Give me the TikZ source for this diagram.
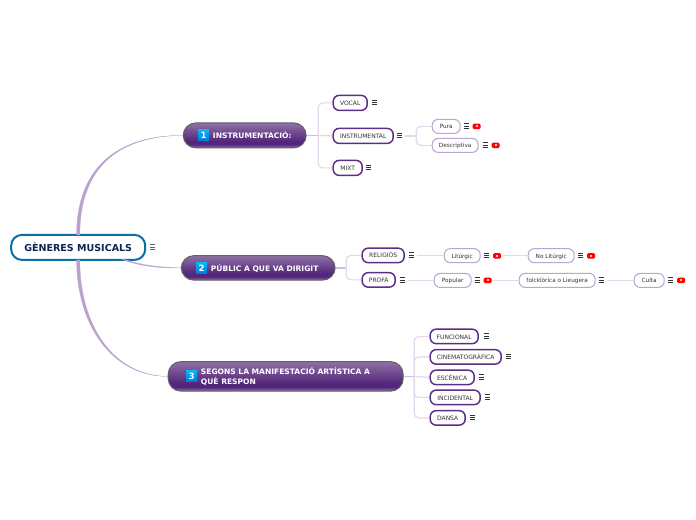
\documentclass[tikz,border=0pt]{standalone}
\usepackage{fontspec}
\setmainfont{DejaVu Sans}
\usetikzlibrary{calc}
\definecolor{rootblue}{HTML}{0A6EA8}
\definecolor{navy}{HTML}{0F2350}
\definecolor{subp}{HTML}{5C2E86}
\definecolor{leafp}{HTML}{BBA6D3}
\definecolor{brl}{HTML}{E2D8EC}
\definecolor{brm}{HTML}{B9A2CF}
\definecolor{txt}{HTML}{333333}
\definecolor{tpa}{HTML}{8F70A6}
\definecolor{tpb}{HTML}{52267A}
\definecolor{tpc}{HTML}{80609A}
\definecolor{ica}{HTML}{0AB4F5}
\definecolor{icb}{HTML}{0078D8}
\pgfdeclareverticalshading{topicshade}{100bp}{
 color(0bp)=(tpc); color(25bp)=(tpc); color(27bp)=(tpc);
 color(32bp)=(tpb); color(38bp)=(tpb);
 color(75bp)=(tpa); color(100bp)=(tpa)}
\pgfdeclareverticalshading{iconshade}{100bp}{
 color(0bp)=(icb); color(25bp)=(icb);
 color(75bp)=(ica); color(100bp)=(ica)}
\tikzset{
 x=0.75pt,y=-0.75pt,
 sz/.style 2 args={minimum width=#1*0.75pt,minimum height=#2*0.75pt},
 rootbox/.style={draw=rootblue,line width=1.5pt,fill=white,rounded corners=8pt,inner sep=0pt,
   font=\bfseries\fontsize{7.15}{8}\selectfont,text=navy},
 topic/.style={draw=black!62,line width=0.75pt,shading=topicshade,rounded corners=9.5pt,inner sep=0pt},
 topiclabel/.style={inner sep=0pt,anchor=west,align=left,text=white,
   font=\bfseries\fontsize{5.65}{7.4}\selectfont},
 numicon/.style={inner sep=0pt,shading=iconshade,minimum width=8.2pt,minimum height=8.2pt,text=white,
   font=\bfseries\fontsize{6.5}{7}\selectfont},
 subbox/.style={draw=subp,line width=1.1pt,fill=white,rounded corners=4.5pt,inner sep=0pt,
   text height=4.6pt,text depth=0.7pt,font=\fontsize{4.5}{5}\selectfont,text=txt},
 leafbox/.style={draw=leafp,line width=0.8pt,fill=white,rounded corners=4.5pt,inner sep=0pt,
   text height=4.6pt,text depth=0.7pt,font=\fontsize{4.3}{5}\selectfont,text=txt},
 branch/.style={draw=brl,line width=0.9pt,rounded corners=3.5pt},
 main/.style={draw=brm,fill=brm,line width=0.2pt},
 pics/menu/.style={code={
   \draw[#1,line width=0.5pt] (-2.6,-2.3)--(2.6,-2.3) (-2.6,0)--(2.6,0) (-2.6,2.3)--(2.6,2.3);}},
 pics/flag/.style={code={
   \fill[red,rounded corners=1pt] (-4,-2.7) rectangle (4,2.7);
   \fill[white!75!red] (-1.1,-1) rectangle (1.1,1);}},
}
\begin{document}
\begin{tikzpicture}
\useasboundingbox (-0.2,-0.4) rectangle (695.8,519.6);
% topics and root
\node[topic,sz={123}{25}] (t1) at (244.5,135) {};
\node[topic,sz={154}{24.5}] (t2) at (258,267.5) {};
\node[topic,sz={235}{29.5}] (t3) at (285.5,376) {};
\node[numicon] (n1) at (203.5,135) {1};
\node[numicon] (n2) at (201.5,268) {2};
\node[numicon] (n3) at (191.5,376) {3};
\node[topiclabel] (l1) at (212.5,135) {INSTRUMENTACIÓ:};
\node[topiclabel] (l2) at (210.5,268) {PÚBLIC A QUE VA DIRIGIT};
\node[topiclabel] (l3) at (200.5,376) {SEGONS LA MANIFESTACIÓ ARTÍSTICA A\\QUÈ RESPON};
% sub nodes
\node[subbox,sz={34}{15}] (vocal) at (350,102.5) {VOCAL};
\node[subbox,sz={60}{15}] (instr) at (363,135.5) {INSTRUMENTAL};
\node[subbox,sz={29}{15}] (mixt) at (347.5,167.5) {MIXT};
\node[leafbox,sz={28}{14}] (pura) at (446,126) {Pura};
\node[leafbox,sz={46}{14}] (desc) at (455,145) {Descriptiva};
\node[subbox,sz={42}{14.5}] (rel) at (383,255) {RELIGIÓS};
\node[subbox,sz={33}{14.5}] (pro) at (378.5,279.5) {PROFÀ};
\node[leafbox,sz={36}{14}] (lit) at (462,255.3) {Litúrgic};
\node[leafbox,sz={46}{14}] (nolit) at (551,255.3) {No Litúrgic};
\node[leafbox,sz={37}{14}] (pop) at (452.5,280) {Popular};
\node[leafbox,sz={76}{14}] (fol) at (557,280) {folcklòrica o Lieugera};
\node[leafbox,sz={30}{14}] (cul) at (649,280) {Culta};
\node[subbox,sz={48}{14.5}] (fun) at (454,336) {FUNCIONAL};
\node[subbox,sz={71}{14.5}] (cin) at (465.5,356.5) {CINEMATOGRÀFICA};
\node[subbox,sz={44}{14.5}] (esc) at (452,377) {ESCÈNICA};
\node[subbox,sz={50}{14.5}] (inc) at (455,397) {INCIDENTAL};
\node[subbox,sz={35}{14.5}] (dan) at (447.5,417.5) {DANSA};
\node[rootbox,sz={134}{25}] (root) at (78,247) {GÈNERES MUSICALS};
% junctions
\coordinate (j1) at (318,135);
\coordinate (j2) at (346,267.5);
\coordinate (j3) at (414,376);
\coordinate (j4) at (416,135.5);
\coordinate (s4) at (405,135.5);
\coordinate (s5) at (417,255.3);
\coordinate (s6) at (503,255.3);
\coordinate (s7) at (408,280);
\coordinate (s8) at (492,280);
\coordinate (s9) at (607,280);
\coordinate (r2) at (122,259);
\coordinate (r3) at (126,259.5);
% main branches
\draw[main] ($(root.north)+(-1.6,1)$) .. controls (76.5,172) and (112,135) .. (t1.west)
   .. controls (113,135.6) and (79.5,172) .. ($(root.north)+(1.6,1)$) -- cycle;
\draw[main] ($(root.south)+(-1.6,-1)$) .. controls (76.5,325) and (112,376) .. (t3.west)
   .. controls (113,375.4) and (79.5,325) .. ($(root.south)+(1.6,-1)$) -- cycle;
\draw[main] (r2) .. controls (140,266) and (160,268) .. (t2.west)
   .. controls (160,267) and (142,265) .. (r3) -- cycle;
% sub branches
\draw[branch,line width=1.1pt,draw=brm!70!white] (t1.east) -- (j1);
\draw[branch] (vocal.west) -| (j1);
\draw[branch] (mixt.west) -| (j1);
\draw[branch] (j1) -- (instr.west);
\draw[branch,line width=1.1pt] (s4) -- (j4);
\draw[branch] (pura.west) -| (j4);
\draw[branch] (desc.west) -| (j4);
\draw[branch,line width=1.1pt,draw=brm!70!white] (t2.east) -- (j2);
\draw[branch] (rel.west) -| (j2);
\draw[branch] (pro.west) -| (j2);
\draw[branch,line width=1.1pt,draw=brm!70!white] (t3.east) -- (j3);
\draw[branch] (fun.west) -| (j3);
\draw[branch] (cin.west) -| (j3);
\draw[branch] (inc.west) -| (j3);
\draw[branch] (dan.west) -| (j3);
\draw[branch] (j3) -- (esc.west);
\draw[branch] (s5) -- (lit.west);
\draw[branch] (s6) -- (nolit.west);
\draw[branch] (s7) -- (pop.west);
\draw[branch] (s8) -- (fol.west);
\draw[branch] (s9) -- (cul.west);
% menu icons
\foreach \x/\y in {374/102,399/135,368/167,466/125.5,485/144.5,411/254.5,402/279.5,486/255,580/255,477/279.5,601/279.5,670/279.5,486/335.5,508/356,481.5/376.5,487.5/396.5,472/417}
  \pic at (\x,\y) {menu={txt}};
\pic at (152.5,246.5) {menu={navy!70!white}};
% red flags
\foreach \x/\y in {476.5/126,495.5/145,497/255.5,591/255.5,487.5/280,681/280}
  \pic at (\x,\y) {flag};
\end{tikzpicture}
\end{document}
